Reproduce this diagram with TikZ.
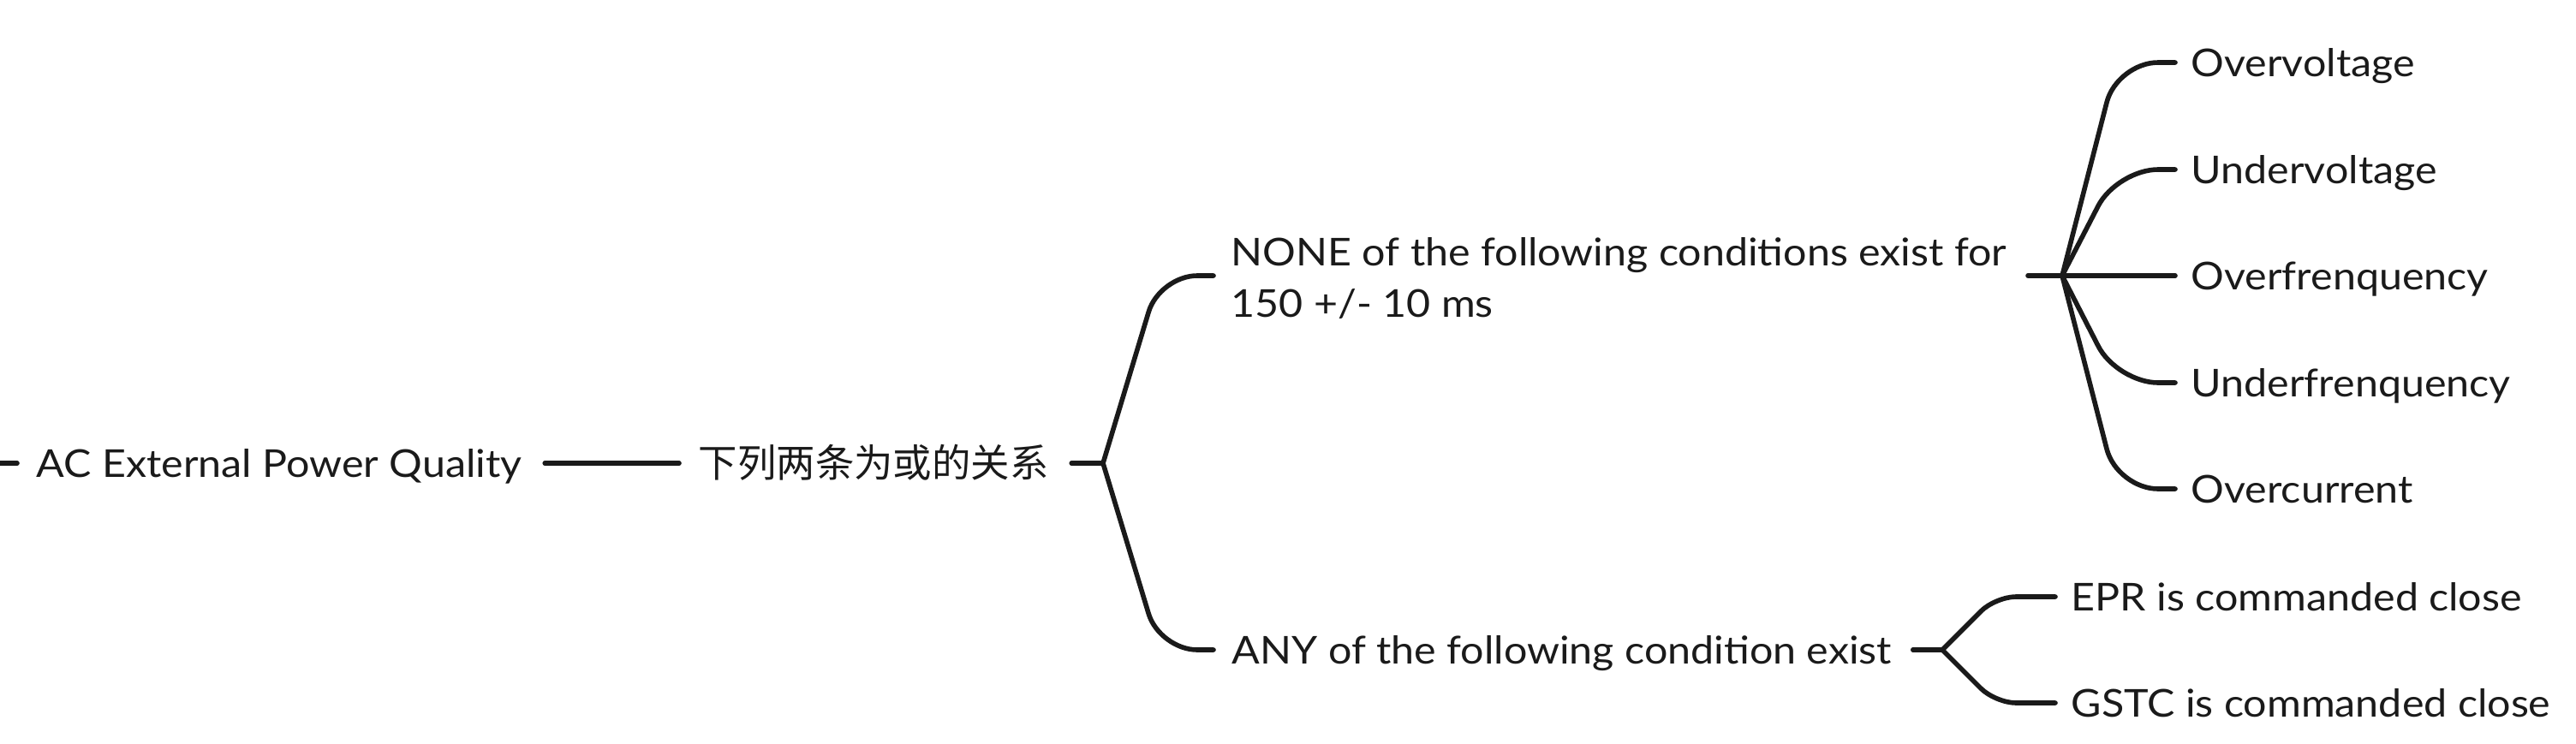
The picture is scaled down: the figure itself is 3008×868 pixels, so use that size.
\documentclass[tikz,border=0pt]{standalone}
\usepackage{fontspec}
\setmainfont{Lato}[FakeStretch=1.08]
\newfontfamily\cjk{Noto Sans CJK SC}
\usetikzlibrary{calc}
\definecolor{ink}{HTML}{1A1A1A}
\tikzset{
  lbl/.style={anchor=west, inner sep=0pt, text height=8pt, text depth=0pt,
    font=\fontsize{11.2}{15}\selectfont, text=ink},
  conn/.style={line width=1.4pt, draw=ink, line cap=round, line join=round},
  bend/.style={conn, rounded corners=#1},
}
\newcommand\branchto[4]{\draw[bend=#4] (#1) -- ($(#1 |- #2)+(#3,0)$) -- (#2);}
\begin{document}
\begin{tikzpicture}[x=0.25pt, y=-0.25pt]
\useasboundingbox (0,0) rectangle (3008,868);
% nodes
\node[lbl] (root) at (42,541) {AC External Power Quality};
\node[lbl] (cn) at (815,541) {\cjk\fontsize{11.35}{15}\selectfont 下列两条为或的关系};
\node[lbl, anchor=base west, text height=, text depth=, align=left] (none) at (1437,370)
  {NONE of the following conditions exist for\\150 +/- 10 ms};
\node[lbl] (any) at (1438,759) {ANY of the following condition exist};
\node[lbl] (c1) at (2558,73) {Overvoltage};
\node[lbl] (c2) at (2558,198) {Undervoltage};
\node[lbl] (c3) at (2558,322) {Overfrenquency};
\node[lbl] (c4) at (2558,447) {Underfrenquency};
\node[lbl] (c5) at (2558,571) {Overcurrent};
\node[lbl] (d1) at (2418,697) {EPR is commanded close};
\node[lbl] (d2) at (2418,821) {GSTC is commanded close};
% junctions
\coordinate (lead) at (-6,541);
\coordinate (b1) at (1288,541);
\coordinate (b2) at (2408,322);
\coordinate (b3) at (2268,759);
\coordinate (noneL) at ($(none.base west)+(-20,-48)$);
\coordinate (anyL) at ($(any.west)+(-21,0)$);
\foreach \n in {c1,c2,c3,c4,c5,d1,d2} {\coordinate (\n L) at ($(\n.west)+(-18,0)$);}
% connectors
\draw[conn] (lead) -- ($(root.west)+(-22,0)$);
\draw[conn] ($(root.east)+(26,0)$) -- ($(cn.west)+(-22,0)$);
\draw[conn] ($(cn.east)+(26,0)$) -- (b1);
\branchto{b1}{noneL}{66}{11pt}
\branchto{b1}{anyL}{66}{11pt}
\draw[conn] ($(b2)+(-40,0)$) -- (b2);
\branchto{b2}{c1L}{64}{12pt}
\branchto{b2}{c2L}{64}{12pt}
\draw[conn] (b2) -- (c3L);
\branchto{b2}{c4L}{64}{12pt}
\branchto{b2}{c5L}{64}{12pt}
\draw[conn] ($(any.east)+(24,0)$) -- (b3);
\branchto{b3}{d1L}{62}{6pt}
\branchto{b3}{d2L}{62}{6pt}
\end{tikzpicture}
\end{document}
